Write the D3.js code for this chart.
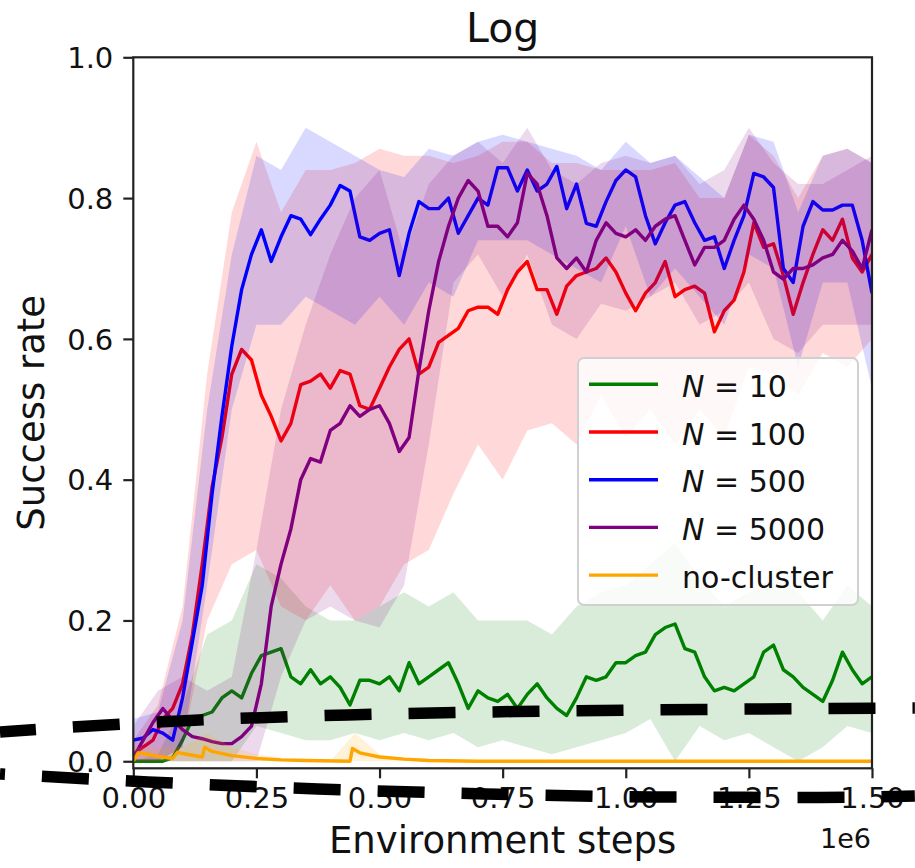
<!DOCTYPE html>
<meta charset="utf-8">
<style>
	body {
		margin:			0px;
		background:		white;
	}
	text {
		font-family:	"DejaVu Sans", sans-serif;
	}
</style>
<body>
<script src="https://cdn.jsdelivr.net/npm/d3@7"></script>
<script>

	//Environment steps (in units of 1e6) for the mean curves
	var steps = [0.00, 0.02, 0.04, 0.06, 0.08, 0.10, 0.12, 0.14, 0.16, 0.18,
		0.20, 0.22, 0.24, 0.26, 0.28, 0.30, 0.32, 0.34, 0.36, 0.38,
		0.40, 0.42, 0.44, 0.46, 0.48, 0.50, 0.52, 0.54, 0.56, 0.58,
		0.60, 0.62, 0.64, 0.66, 0.68, 0.70, 0.72, 0.74, 0.76, 0.78,
		0.80, 0.82, 0.84, 0.86, 0.88, 0.90, 0.92, 0.94, 0.96, 0.98,
		1.00, 1.02, 1.04, 1.06, 1.08, 1.10, 1.12, 1.14, 1.16, 1.18,
		1.20, 1.22, 1.24, 1.26, 1.28, 1.30, 1.32, 1.34, 1.36, 1.38,
		1.40, 1.42, 1.44, 1.46, 1.48, 1.50];

	//Mean success rate per series
	var n10 = [0.0, 0.0, 0.0, 0.0, 0.005, 0.03, 0.06, 0.065, 0.07, 0.09,
		0.10, 0.09, 0.125, 0.15, 0.155, 0.16, 0.12, 0.11, 0.13, 0.11,
		0.12, 0.105, 0.08, 0.115, 0.115, 0.11, 0.12, 0.10, 0.14, 0.11,
		0.12, 0.13, 0.14, 0.11, 0.075, 0.10, 0.09, 0.085, 0.095, 0.075,
		0.095, 0.11, 0.09, 0.075, 0.065, 0.09, 0.12, 0.115, 0.12, 0.14,
		0.14, 0.15, 0.155, 0.18, 0.19, 0.195, 0.16, 0.155, 0.12, 0.10,
		0.105, 0.10, 0.11, 0.12, 0.155, 0.165, 0.13, 0.12, 0.105, 0.095,
		0.085, 0.115, 0.155, 0.13, 0.11, 0.12];

	var n100 = [0.01, 0.02, 0.03, 0.06, 0.075, 0.11, 0.18, 0.28, 0.39, 0.46,
		0.55, 0.585, 0.57, 0.52, 0.49, 0.455, 0.48, 0.535, 0.54, 0.55,
		0.53, 0.555, 0.55, 0.505, 0.50, 0.53, 0.56, 0.585, 0.60, 0.55,
		0.56, 0.595, 0.605, 0.615, 0.64, 0.645, 0.645, 0.635, 0.67, 0.695,
		0.71, 0.67, 0.67, 0.635, 0.675, 0.69, 0.695, 0.70, 0.715, 0.695,
		0.665, 0.64, 0.665, 0.68, 0.71, 0.66, 0.67, 0.675, 0.665, 0.61,
		0.64, 0.655, 0.695, 0.765, 0.73, 0.735, 0.69, 0.635, 0.68, 0.72,
		0.755, 0.74, 0.77, 0.715, 0.695, 0.72];

	var n500 = [0.03, 0.033, 0.045, 0.04, 0.03, 0.09, 0.17, 0.25, 0.38, 0.49,
		0.59, 0.67, 0.72, 0.755, 0.71, 0.745, 0.775, 0.77, 0.748, 0.77,
		0.79, 0.818, 0.81, 0.745, 0.74, 0.75, 0.755, 0.69, 0.75, 0.795,
		0.785, 0.785, 0.80, 0.75, 0.775, 0.80, 0.79, 0.843, 0.843, 0.81,
		0.84, 0.81, 0.82, 0.845, 0.785, 0.82, 0.764, 0.76, 0.795, 0.825,
		0.84, 0.83, 0.775, 0.735, 0.765, 0.79, 0.795, 0.765, 0.74, 0.745,
		0.70, 0.74, 0.775, 0.835, 0.83, 0.815, 0.70, 0.68, 0.76, 0.795,
		0.783, 0.783, 0.79, 0.79, 0.74, 0.665];

	var n5000 = [0.005, 0.03, 0.055, 0.075, 0.058, 0.045, 0.035, 0.032, 0.028, 0.025,
		0.025, 0.035, 0.05, 0.11, 0.22, 0.28, 0.33, 0.40, 0.43, 0.425,
		0.47, 0.48, 0.505, 0.49, 0.50, 0.505, 0.48, 0.44, 0.46, 0.555,
		0.64, 0.71, 0.76, 0.80, 0.825, 0.81, 0.76, 0.76, 0.745, 0.765,
		0.835, 0.82, 0.775, 0.715, 0.70, 0.715, 0.695, 0.74, 0.765, 0.75,
		0.745, 0.755, 0.74, 0.76, 0.77, 0.775, 0.74, 0.705, 0.73, 0.73,
		0.74, 0.77, 0.79, 0.77, 0.74, 0.695, 0.685, 0.70, 0.70, 0.705,
		0.715, 0.72, 0.74, 0.725, 0.70, 0.755];

	//no-cluster has its own sample points so the small spikes stay sharp
	var noClusterSteps = [0.00, 0.01, 0.02, 0.05, 0.08, 0.09, 0.10, 0.14, 0.145, 0.16,
		0.20, 0.25, 0.30, 0.35, 0.44, 0.445, 0.46, 0.50, 0.55, 0.60, 0.70, 1.50];
	var noCluster = [0.0, 0.012, 0.011, 0.007, 0.004, 0.013, 0.011, 0.006, 0.02, 0.014,
		0.008, 0.004, 0.002, 0.001, 0.0, 0.018, 0.012, 0.006, 0.003, 0.001, 0.0, 0.0];

	//Shaded spread, sampled every 0.05e6
	var bandSteps = [0.00, 0.05, 0.10, 0.15, 0.20, 0.25, 0.30, 0.35, 0.40, 0.45,
		0.50, 0.55, 0.60, 0.65, 0.70, 0.75, 0.80, 0.85, 0.90, 0.95,
		1.00, 1.05, 1.10, 1.15, 1.20, 1.25, 1.30, 1.35, 1.40, 1.45, 1.50];

	var n10Lo = [0, 0, 0, 0, 0, 0.05, 0.04, 0.03, 0.03, 0.04,
		0.03, 0.04, 0.03, 0.04, 0.02, 0.03, 0.02, 0.01, 0.02, 0.03,
		0.04, 0.06, 0.0, 0.05, 0.03, 0.04, 0.02, 0.0, 0.02, 0.05, 0.04];
	var n10Hi = [0, 0.01, 0.08, 0.18, 0.2, 0.28, 0.26, 0.22, 0.2, 0.2,
		0.22, 0.24, 0.22, 0.24, 0.2, 0.2, 0.2, 0.18, 0.22, 0.24,
		0.25, 0.28, 0.31, 0.26, 0.22, 0.24, 0.26, 0.24, 0.2, 0.25, 0.22];

	var n100Lo = [0, 0, 0.02, 0.2, 0.28, 0.3, 0.22, 0.2, 0.25, 0.2,
		0.22, 0.28, 0.3, 0.38, 0.45, 0.40, 0.47, 0.48, 0.45, 0.52,
		0.46, 0.50, 0.45, 0.50, 0.46, 0.56, 0.55, 0.52, 0.58, 0.56, 0.60];
	var n100Hi = [0.03, 0.08, 0.22, 0.55, 0.78, 0.88, 0.78, 0.84, 0.84, 0.85,
		0.87, 0.86, 0.86, 0.85, 0.86, 0.88, 0.88, 0.85, 0.85, 0.84,
		0.84, 0.84, 0.85, 0.80, 0.80, 0.89, 0.86, 0.80, 0.86, 0.87, 0.85];

	var n500Lo = [0, 0, 0.02, 0.25, 0.5, 0.62, 0.62, 0.66, 0.64, 0.62,
		0.66, 0.62, 0.68, 0.66, 0.74, 0.74, 0.74, 0.72, 0.70, 0.68,
		0.76, 0.66, 0.70, 0.66, 0.62, 0.72, 0.70, 0.56, 0.68, 0.68, 0.53];
	var n500Hi = [0.06, 0.07, 0.2, 0.5, 0.72, 0.86, 0.84, 0.9, 0.88, 0.86,
		0.84, 0.83, 0.87, 0.86, 0.88, 0.89, 0.88, 0.87, 0.86, 0.84,
		0.88, 0.85, 0.86, 0.83, 0.80, 0.89, 0.88, 0.78, 0.86, 0.87, 0.85];

	var n5000Lo = [0, 0, 0, 0, 0, 0, 0.12, 0.2, 0.22, 0.2,
		0.19, 0.25, 0.45, 0.68, 0.72, 0.66, 0.72, 0.62, 0.60, 0.65,
		0.64, 0.66, 0.68, 0.62, 0.64, 0.68, 0.60, 0.58, 0.62, 0.62, 0.62];
	var n5000Hi = [0.05, 0.1, 0.12, 0.1, 0.12, 0.3, 0.5, 0.62, 0.72, 0.8,
		0.84, 0.72, 0.82, 0.86, 0.88, 0.85, 0.9, 0.84, 0.82, 0.85,
		0.86, 0.85, 0.86, 0.82, 0.84, 0.90, 0.85, 0.82, 0.82, 0.84, 0.86];

	var noClusterLo = [0, 0, 0, 0, 0, 0, 0, 0, 0, 0,
		0, 0, 0, 0, 0, 0, 0, 0, 0, 0,
		0, 0, 0, 0, 0, 0, 0, 0, 0, 0, 0];
	var noClusterHi = [0.02, 0.02, 0.02, 0.04, 0.02, 0.01, 0.005, 0.002, 0.0, 0.04,
		0.01, 0.004, 0, 0, 0, 0, 0, 0, 0, 0,
		0, 0, 0, 0, 0, 0, 0, 0, 0, 0, 0];

	//Legend labels, colours
	var names = ["10", "100", "500", "5000", "no-cluster"];
	var colors = ["green", "red", "blue", "purple", "orange"];

	//Tick values
	var xTicks = [0, 0.25, 0.5, 0.75, 1.0, 1.25, 1.5];
	var yTicks = [0.0, 0.2, 0.4, 0.6, 0.8, 1.0];

	//The two thick dashed strokes laid across the figure, in data units
	var upperDashX = [-0.2707, 0.0948, 0.436, 0.779, 1.151, 1.587];
	var upperDashY = [0.0416, 0.0573, 0.0658, 0.0707, 0.0736, 0.0757];
	var lowerDashX = [-0.2707, 0.0299, 0.375, 0.714, 1.055, 1.394, 1.587];
	var lowerDashY = [-0.018, -0.0294, -0.0393, -0.0464, -0.0507, -0.0514, -0.0493];

	var series = [
		{ xs: steps, ys: n10, lo: n10Lo, hi: n10Hi },
		{ xs: steps, ys: n100, lo: n100Lo, hi: n100Hi },
		{ xs: steps, ys: n500, lo: n500Lo, hi: n500Hi },
		{ xs: steps, ys: n5000, lo: n5000Lo, hi: n5000Hi },
		{ xs: noClusterSteps, ys: noCluster, lo: noClusterLo, hi: noClusterHi }
	];

	var width = 915;
	var height = 868;

	var xScale = d3.scaleLinear()
					.domain([0, 1.5])
					.range([133.3, 872]);
	var yScale = d3.scaleLinear()
					.domain([-0.01, 1.0])
					.range([768.3, 57.3]);

	var svg = d3.select("body")
				.append("svg")
				.attr("width", width)
				.attr("height", height);

	svg.append("rect")
		.attr("width", width)
		.attr("height", height)
		.attr("fill", "white");

	svg.append("clipPath")
		.attr("id", "plotArea")
		.append("rect")
		.attr("x", xScale(0))
		.attr("y", yScale(1.0))
		.attr("width", xScale(1.5) - xScale(0))
		.attr("height", yScale(-0.01) - yScale(1.0));

	var plot = svg.append("g")
				.attr("clip-path", "url(#plotArea)");

	var area = d3.area()
				.x(function(d) { return xScale(d[0]); })
				.y0(function(d) { return yScale(d[1]); })
				.y1(function(d) { return yScale(d[2]); });
	var line = d3.line()
				.x(function(d) { return xScale(d[0]); })
				.y(function(d) { return yScale(d[1]); });

	//Band then mean line for each series
	series.forEach(function(s, k) {
		plot.append("path")
			.datum(bandSteps.map(function(x, i) { return [x, s.lo[i], s.hi[i]]; }))
			.attr("d", area)
			.attr("fill", colors[k])
			.attr("fill-opacity", 0.15)
			.attr("stroke", "none");
		plot.append("path")
			.datum(s.xs.map(function(x, i) { return [x, s.ys[i]]; }))
			.attr("d", line)
			.attr("fill", "none")
			.attr("stroke", colors[k])
			.attr("stroke-width", 3.4)
			.attr("stroke-linejoin", "round");
	});

	//Axes
	var xAxis = d3.axisBottom(xScale)
					.tickValues(xTicks)
					.tickFormat(d3.format(".2f"))
					.tickSize(10)
					.tickPadding(9);
	var yAxis = d3.axisLeft(yScale)
					.tickValues(yTicks)
					.tickFormat(d3.format(".1f"))
					.tickSize(10)
					.tickPadding(10);

	var gx = svg.append("g")
				.attr("transform", "translate(0," + yScale(-0.01) + ")")
				.call(xAxis);
	var gy = svg.append("g")
				.attr("transform", "translate(" + xScale(0) + ",0)")
				.call(yAxis);

	[gx, gy].forEach(function(g) {
		g.select(".domain").remove();
		g.selectAll(".tick line")
			.attr("stroke", "#222")
			.attr("stroke-width", 2.2);
		g.selectAll(".tick text")
			.attr("fill", "#111")
			.attr("font-size", "29px")
			.attr("font-family", "DejaVu Sans");
	});
	gy.selectAll(".tick text").attr("dy", "0.35em");

	//Frame
	svg.append("rect")
		.attr("x", xScale(0))
		.attr("y", yScale(1.0))
		.attr("width", xScale(1.5) - xScale(0))
		.attr("height", yScale(-0.01) - yScale(1.0))
		.attr("fill", "none")
		.attr("stroke", "#222")
		.attr("stroke-width", 2.2);

	//Titles
	svg.append("text")
		.attr("x", (xScale(0) + xScale(1.5)) / 2)
		.attr("y", 42)
		.attr("text-anchor", "middle")
		.attr("font-size", "41px")
		.attr("fill", "#111")
		.text("Log");

	svg.append("text")
		.attr("x", (xScale(0) + xScale(1.5)) / 2)
		.attr("y", 853)
		.attr("text-anchor", "middle")
		.attr("font-size", "37px")
		.attr("fill", "#111")
		.text("Environment steps");

	svg.append("text")
		.attr("transform", "translate(44," + (yScale(1.0) + yScale(-0.01)) / 2 + ") rotate(-90)")
		.attr("text-anchor", "middle")
		.attr("font-size", "37px")
		.attr("fill", "#111")
		.text("Success rate");

	svg.append("text")
		.attr("x", xScale(1.5) - 1)
		.attr("y", 848)
		.attr("text-anchor", "end")
		.attr("font-size", "27px")
		.attr("fill", "#111")
		.text("1e6");

	//Legend
	var legend = svg.append("g");
	legend.append("rect")
		.attr("x", 578)
		.attr("y", 358)
		.attr("width", 280)
		.attr("height", 247)
		.attr("rx", 6)
		.attr("fill", "white")
		.attr("fill-opacity", 0.8)
		.attr("stroke", "#d0d0d0")
		.attr("stroke-width", 2);

	var rows = legend.selectAll("g.row")
					.data(names)
					.enter()
					.append("g")
					.attr("class", "row")
					.attr("transform", function(d, i) { return "translate(0," + (384.3 + i * 47.7) + ")"; });
	rows.append("line")
		.attr("x1", 589)
		.attr("x2", 658)
		.attr("stroke", function(d, i) { return colors[i]; })
		.attr("stroke-width", 3.4);
	var labels = rows.append("text")
					.attr("x", 682)
					.attr("y", 12.5)
					.attr("font-size", "30px")
					.attr("fill", "#111");
	labels.each(function(d) {
		var t = d3.select(this);
		if (d === "no-cluster") {
			t.text(d);
		} else {
			t.append("tspan").attr("font-style", "italic").text("N");
			t.append("tspan").text(" = " + d);
		}
	});

	//Thick dashed strokes on top
	var dashLine = d3.line()
					.x(function(d) { return xScale(d[0]); })
					.y(function(d) { return yScale(d[1]); })
					.curve(d3.curveMonotoneX);

	svg.append("path")
		.datum(upperDashX.map(function(x, i) { return [x, upperDashY[i]]; }))
		.attr("d", dashLine)
		.attr("fill", "none")
		.attr("stroke", "black")
		.attr("stroke-width", 11.5)
		.attr("stroke-dasharray", "47,37")
		.attr("stroke-dashoffset", 11);

	svg.append("path")
		.datum(lowerDashX.map(function(x, i) { return [x, lowerDashY[i]]; }))
		.attr("d", dashLine)
		.attr("fill", "none")
		.attr("stroke", "black")
		.attr("stroke-width", 11.5)
		.attr("stroke-dasharray", "47,37")
		.attr("stroke-dashoffset", 42);

</script>
</body>
